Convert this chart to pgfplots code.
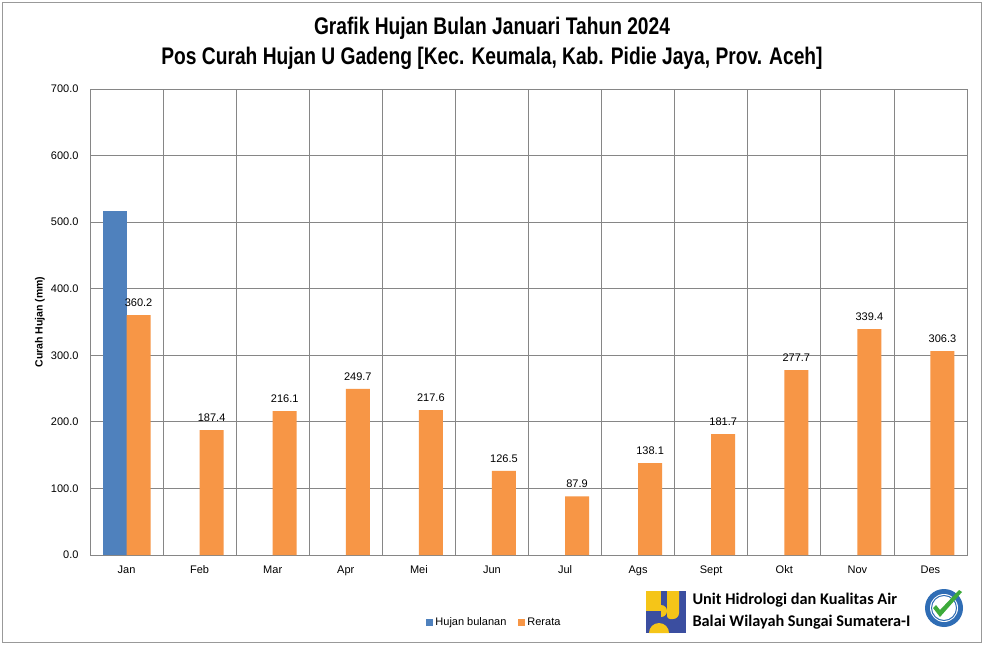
\documentclass[border=0pt]{standalone}
\usepackage{pgfplots}
\pgfplotsset{compat=1.18}
\usepackage{fontspec}
\setmainfont{Liberation Sans}
\newfontfamily\titlefont{Liberation Sans}[FakeStretch=0.8]
\newfontfamily\logofont{Carlito}
\definecolor{cblue}{HTML}{4F81BD}
\definecolor{corange}{HTML}{F79646}
\definecolor{cgrid}{HTML}{868686}
\definecolor{publue}{HTML}{3B4EA0}
\definecolor{puyellow}{HTML}{F5C518}
\definecolor{isoblue}{HTML}{2F6DB5}
\definecolor{isogreen}{HTML}{3DAA3A}
\pgfplotsset{
  sqlegend/.style={legend image code/.code={\fill[##1,draw=none] (0pt,-3.5pt) rectangle (7pt,3.5pt);}}
}
\begin{document}
\begin{tikzpicture}
\path[use as bounding box,fill=white] (0,0) rectangle (984pt,645pt);
\draw[gray!80,line width=1pt] (2.5pt,2.5pt) rectangle (981.5pt,642.5pt);
% Title
\node[font=\titlefont\bfseries\fontsize{24}{27}\selectfont] at (492pt,617pt) {Grafik Hujan Bulan Januari Tahun 2024};
\node[font=\titlefont\bfseries\fontsize{24}{27}\selectfont] at (492pt,587pt) {Pos Curah Hujan U Gadeng [Kec. Keumala, Kab. Pidie Jaya, Prov. Aceh]};
\begin{axis}[
  at={(90pt,90pt)}, anchor=south west,
  scale only axis, width=877pt, height=466pt,
  ybar=0pt, bar width=24pt,
  xmin=-0.5, xmax=11.5, ymin=0, ymax=700,
  xtick={0,...,11},
  xticklabels={Jan,Feb,Mar,Apr,Mei,Jun,Jul,Ags,Sept,Okt,Nov,Des},
  minor xtick={0.5,1.5,...,10.5},
  xminorgrids, ymajorgrids,
  minor x grid style={cgrid, line width=0.8pt},
  major y grid style={cgrid, line width=0.8pt},
  ytick={0,100,...,700},
  axis line style={cgrid, line width=0.8pt},
  major tick length=0pt, minor tick length=0pt,
  yticklabel style={/pgf/number format/fixed,/pgf/number format/fixed zerofill,/pgf/number format/precision=1,/pgf/number format/assume math mode=true, xshift=-8pt},
  ticklabel style={font=\fontsize{11}{13}\selectfont},
  xticklabel style={yshift=-7pt},
  ylabel={Curah Hujan (mm)},
  ylabel style={font=\bfseries\fontsize{10.5}{12}\selectfont, at={(axis description cs:-0.057,0.5)}, anchor=center},
  legend style={at={(0.38,-0.144)}, anchor=west, draw=none, fill=none, legend columns=2,
    font=\fontsize{11}{13}\selectfont, /tikz/every even column/.append style={column sep=10pt}},
  legend cell align=left,
]
\addplot[fill=cblue, draw=none, sqlegend] coordinates {(0,516)};
\addlegendentry{Hujan bulanan}
\addplot[fill=corange, draw=none, sqlegend,
  nodes near coords,
  nodes near coords style={font=\fontsize{11}{13}\selectfont, text=black, yshift=5pt, /pgf/number format/fixed, /pgf/number format/fixed zerofill, /pgf/number format/precision=1, /pgf/number format/assume math mode=true},
] coordinates {(0,360.2) (1,187.4) (2,216.1) (3,249.7) (4,217.6) (5,126.5) (6,87.9) (7,138.1) (8,181.7) (9,277.7) (10,339.4) (11,306.3)};
\addlegendentry{Rerata}
\end{axis}
% PU logo
\begin{scope}[shift={(646pt,12pt)}]
\fill[publue] (0,0) rectangle (40pt,42pt);
\fill[puyellow] (0,22pt) rectangle (15pt,42pt);
\fill[puyellow] (15pt,28pt) arc[start angle=90,end angle=-90,radius=6pt] -- cycle;
\fill[puyellow] (21pt,42pt) -- (33pt,42pt) -- (33pt,20pt) arc[start angle=0,end angle=-90,radius=6pt] -- (24pt,14pt) arc[start angle=270,end angle=180,radius=3pt] -- (21pt,17pt) -- cycle;
\fill[puyellow] (3pt,0) arc[start angle=180,end angle=0,radius=10pt] -- cycle;
\end{scope}
\node[font=\logofont\bfseries\fontsize{16.3}{18}\selectfont, anchor=west] at (689pt,45pt) {Unit Hidrologi dan Kualitas Air};
\node[font=\logofont\bfseries\fontsize{16.3}{18}\selectfont, anchor=west] at (689pt,23pt) {Balai Wilayah Sungai Sumatera-I};
% ISO badge
\begin{scope}[shift={(944pt,37pt)}]
\fill[isoblue] (0,0) circle (19pt);
\fill[white] (0,0) circle (14pt);
\draw[isoblue, line width=1pt] (0,0) circle (12.5pt);
\fill[isogreen] (-11pt,0pt) -- (-4pt,-9pt) -- (18pt,16pt) -- (15pt,18pt) -- (-4pt,-2pt) -- (-8pt,3pt) -- cycle;
\end{scope}
\end{tikzpicture}
\end{document}
